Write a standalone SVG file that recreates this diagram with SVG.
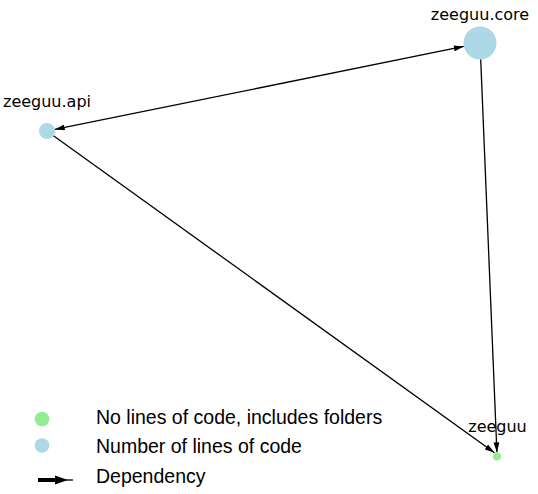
<svg xmlns="http://www.w3.org/2000/svg" width="538" height="494" viewBox="0 0 538 494">
<style>
.lbl{font-family:"DejaVu Sans",sans-serif;font-size:16px;fill:#000;text-anchor:middle}
.leg{font-family:"Liberation Sans",Arial,sans-serif;font-size:19.5px;fill:#000}
.edge{stroke:#000;stroke-width:1.3;fill:none}
.code{fill:#add8e6}
.nocode{fill:#90ee90}
</style>
<defs>
<marker id="ah" markerUnits="userSpaceOnUse" markerWidth="10" markerHeight="6" refX="10" refY="3" orient="auto-start-reverse" viewBox="0 0 10 6">
<path d="M0,0 L10,3 L0,6 z" fill="#000"/>
</marker>
</defs>
<rect width="538" height="494" fill="#fff"/>
<g id="connectors">
<line class="edge" x1="54.8" y1="129.4" x2="463.8" y2="46.4" marker-start="url(#ah)" marker-end="url(#ah)"/>
<line class="edge" x1="53.5" y1="135.7" x2="494.5" y2="452.8" marker-end="url(#ah)"/>
<line class="edge" x1="480.7" y1="59.3" x2="496.9" y2="452.3" marker-end="url(#ah)"/>
</g>
<g id="zeeguu.core">
<circle class="code" cx="480" cy="43" r="16.5"/>
<text class="lbl" x="480" y="20">zeeguu.core</text>
</g>
<g id="zeeguu.api">
<circle class="code" cx="47" cy="131" r="8"/>
<text class="lbl" x="47" y="107">zeeguu.api</text>
</g>
<g id="zeeguu">
<circle class="nocode" cx="497" cy="456.5" r="4"/>
<text class="lbl" x="497.5" y="432">zeeguu</text>
</g>
<g id="legend">
<circle class="nocode" cx="42" cy="419" r="7.3"/>
<text class="leg" x="96" y="424">No lines of code, includes folders</text>
<circle class="code" cx="42" cy="445.5" r="7.3"/>
<text class="leg" x="96" y="453">Number of lines of code</text>
<rect x="38" y="478" width="19" height="4" fill="#000"/>
<polygon points="55,475.5 68,480 55,484.5" fill="#000"/>
<line x1="66" y1="480" x2="73" y2="480" stroke="#000" stroke-width="1.3"/>
<text class="leg" x="96" y="483">Dependency</text>
</g>
</svg>
